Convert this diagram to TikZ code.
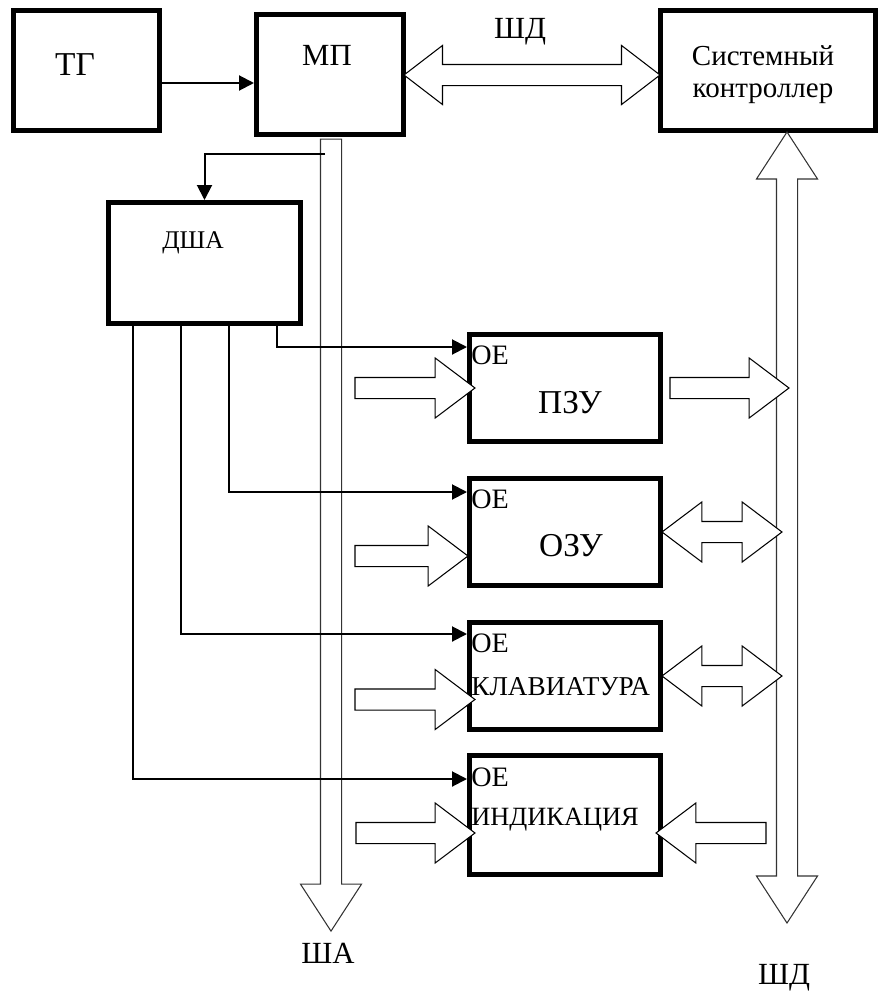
\documentclass[tikz,border=0pt]{standalone}
\usepackage{fontspec}
\setmainfont{Liberation Serif}
\usetikzlibrary{shapes.arrows,arrows.meta,calc}

\begin{document}
\begin{tikzpicture}[
    x=0.2mm, y=-0.2mm,
    block/.style={rectangle, draw, line width=1mm, inner sep=0pt},
    conn/.style={-{Triangle[length=3mm,width=3mm]}, line width=0.4mm},
    fat/.style={draw, fill=white, line width=0.6pt, inner sep=2mm},
    busline/.style={fat, draw=black!80},
    rarrow/.style={fat, single arrow, single arrow tip angle=74, single arrow head extend=3.9mm},
    darrow/.style={fat, double arrow, double arrow tip angle=74, double arrow head extend=3.9mm},
    txtL/.style={inner sep=0pt, font=\fontsize{19}{22}\selectfont},
    txtM/.style={inner sep=0pt, font=\fontsize{17.5}{20}\selectfont},
    txtS/.style={inner sep=0pt, font=\fontsize{14.5}{17}\selectfont},
    txtOE/.style={inner sep=0pt, anchor=west, font=\fontsize{16}{18}\selectfont}
]
\useasboundingbox (0,0) rectangle (881,1000);

% Blocks
\node[block, minimum width=29.2mm, minimum height=24mm] (tg) at (86.5,70.5) {};
\node[block, minimum width=29.4mm, minimum height=24mm] (mp) at (330,74.5) {};
\node[block, minimum width=43mm, minimum height=24mm] (sc) at (768,70.5) {};
\node[block, minimum width=38.4mm, minimum height=24.2mm] (dsha) at (204.5,263) {};
\node[block, minimum width=38.2mm, minimum height=21.4mm] (pzu) at (565,388) {};
\node[block, minimum width=38.2mm, minimum height=21.4mm] (ozu) at (565,532) {};
\node[block, minimum width=38.2mm, minimum height=21.4mm] (kl) at (565,676) {};
\node[block, minimum width=38.2mm, minimum height=23.8mm] (ind) at (565,815) {};

% Buses
\node[busline, single arrow, rotate=-90, single arrow tip angle=66, single arrow head extend=4mm, minimum height=158.4mm] (sha) at (331,527) {};
\node[busline, double arrow, rotate=90, double arrow tip angle=66, double arrow head extend=4mm, minimum height=158.2mm] (shd) at (787,527.5) {};
\node[darrow, double arrow tip angle=75, double arrow head extend=3.8mm, minimum height=51.2mm] (shdtop) at (532,75) {};

% Bus to blocks
\node[rarrow, minimum height=24mm] (pzuin) at (408,388) {};
\node[rarrow, minimum height=23.8mm] (pzuout) at (722.5,388) {};
\node[rarrow, minimum height=22.6mm] (ozuin) at (404.5,556) {};
\node[darrow, minimum height=24mm] (ozudat) at (722,532) {};
\node[rarrow, minimum height=24mm] (klin) at (408,699.5) {};
\node[darrow, minimum height=24mm] (kldat) at (722,676) {};
\node[rarrow, minimum height=23.8mm] (indin) at (408.5,833) {};
\node[rarrow, rotate=180, minimum height=22mm] (inddat) at (718,833) {};

% Labels
\node[txtL] (tgtxt) at (75,65) {ТГ};
\node[txtM] (mptxt) at (327,55) {МП};
\node[txtM] (shdtxt) at (520,32) {ШД};
\node[inner sep=0pt, align=center, font=\fontsize{16.5}{18.2}\selectfont] (sctxt) at (763,75) {Системный\\контроллер};
\node[txtS] (dshatxt) at (193,243) {ДША};
\node[txtOE] (oe1) at (471,355) {OE};
\node[txtOE] (oe2) at (471,499) {OE};
\node[txtOE] (oe3) at (471,643) {OE};
\node[txtOE] (oe4) at (471,777) {OE};
\node[txtL] (pzutxt) at (570,403) {ПЗУ};
\node[txtL] (ozutxt) at (571,546) {ОЗУ};
\node[txtS, anchor=west, font=\fontsize{15.5}{18}\selectfont] (kltxt) at (471,687) {КЛАВИАТУРА};
\node[txtS, anchor=west, font=\fontsize{15}{18}\selectfont] (indtxt) at (471,820) {ИНДИКАЦИЯ};
\node[txtM] (shatxt) at (328,953) {ША};
\node[txtM] (shdbot) at (784,978) {ШД};

% Connectors
\coordinate (clk) at (0,83);
\coordinate (tap) at (325,154);
\coordinate (y1) at (277,347);
\coordinate (y2) at (229,492);
\coordinate (y3) at (181,634);
\coordinate (y4) at (133,779);
\draw[conn] (tg.east |- clk) -- (mp.west |- clk);
\draw[conn] (tap) -| (dsha.north);
\draw[conn] (dsha.south -| y1) |- (pzu.west |- y1);
\draw[conn] (dsha.south -| y2) |- (ozu.west |- y2);
\draw[conn] (dsha.south -| y3) |- (kl.west |- y3);
\draw[conn] (dsha.south -| y4) |- (ind.west |- y4);

\end{tikzpicture}
\end{document}
